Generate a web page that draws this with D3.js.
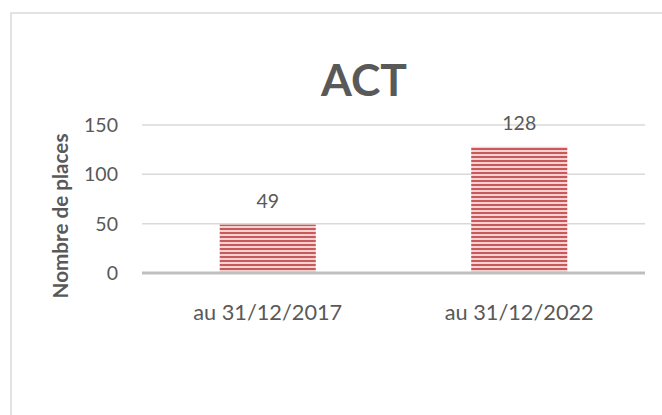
<!DOCTYPE html>
<html><head><meta charset="utf-8">
<script src="https://cdn.jsdelivr.net/npm/d3@7"></script>
<style>
html,body{margin:0;padding:0;background:#fff;}
svg{display:block;}
text{font-family:Lato,"Open Sans",sans-serif;fill:#595959;}
</style></head>
<body>
<svg id="chart" width="662" height="415"></svg>
<script>
const title = "ACT";
const yAxisTitle = "Nombre de places";
const categories = ["au 31/12/2017", "au 31/12/2022"];
const values = [49, 128];
const yTicks = [0, 50, 100, 150];

const svg = d3.select("#chart");
const W = 662, H = 415;
const plot = {left: 142, right: 645, top: 125, bottom: 273};

// fit text to a target width
function fit(sel, target) {
  sel.each(function() {
    const fs = parseFloat(d3.select(this).attr("font-size"));
    const w = this.getComputedTextLength();
    if (w > 0) d3.select(this).attr("font-size", (fs * target / w).toFixed(2));
  });
}

// chart border
svg.append("rect").attr("x", 11).attr("y", 13).attr("width", 800).attr("height", 600)
  .attr("fill", "none").attr("stroke", "#d9d9d9").attr("stroke-width", 1.5);

// pattern
const defs = svg.append("defs");
const pat = defs.append("pattern").attr("id", "stripes").attr("patternUnits", "userSpaceOnUse")
  .attr("width", 8).attr("height", 4);
pat.append("rect").attr("width", 8).attr("height", 4).attr("fill", "#f3d2d2");
pat.append("rect").attr("y", 0).attr("width", 8).attr("height", 2).attr("fill", "#c9585b");

const x = d3.scaleBand().domain(categories).range([plot.left, plot.right])
  .paddingInner(0.618).paddingOuter(0.309);
const y = d3.scaleLinear().domain([0, 150]).range([plot.bottom, plot.top]);

// gridlines
svg.append("g").selectAll("line").data(yTicks.filter(d => d > 0)).join("line")
  .attr("x1", plot.left).attr("x2", plot.right)
  .attr("y1", d => y(d)).attr("y2", d => y(d))
  .attr("stroke", "#d9d9d9").attr("stroke-width", 1.5);

// bars
svg.append("g").selectAll("rect").data(values).join("rect")
  .attr("x", (d, i) => x(categories[i]))
  .attr("width", x.bandwidth())
  .attr("y", d => y(d))
  .attr("height", d => y(0) - y(d))
  .attr("fill", "url(#stripes)");

// baseline axis
svg.append("line").attr("x1", plot.left).attr("x2", plot.right)
  .attr("y1", y(0)).attr("y2", y(0))
  .attr("stroke", "#bfbfbf").attr("stroke-width", 3);

// y tick labels
const yt = svg.append("g").selectAll("text").data(yTicks).join("text")
  .attr("x", 118).attr("y", d => y(d)).attr("dy", "0.36em")
  .attr("text-anchor", "end").attr("font-size", 20)
  .text(d => d);
fit(yt.filter(d => d === 150), 34);
const tfs = yt.filter(d => d === 150).attr("font-size");
yt.attr("font-size", tfs);

// category labels
const cl = svg.append("g").selectAll("text").data(categories).join("text")
  .attr("x", d => x(d) + x.bandwidth() / 2).attr("y", 320)
  .attr("text-anchor", "middle").attr("font-size", 22)
  .text(d => d);
fit(cl.filter((d, i) => i === 0), 149);
cl.attr("font-size", cl.filter((d, i) => i === 0).attr("font-size"));

// data labels
svg.append("g").selectAll("text").data(values).join("text")
  .attr("x", (d, i) => x(categories[i]) + x.bandwidth() / 2)
  .attr("y", d => y(d) - 17)
  .attr("text-anchor", "middle").attr("font-size", tfs)
  .text(d => d);

// title
const tt = svg.append("text").attr("x", 364).attr("y", 96)
  .attr("text-anchor", "middle").attr("font-size", 44).attr("font-weight", 700)
  .text(title);
fit(tt, 86);

// y axis title
const yat = svg.append("text")
  .attr("transform", "translate(68,216) rotate(-90)")
  .attr("text-anchor", "middle").attr("font-size", 20).attr("font-weight", 700)
  .text(yAxisTitle);
fit(yat, 165);
</script>
</body></html>
